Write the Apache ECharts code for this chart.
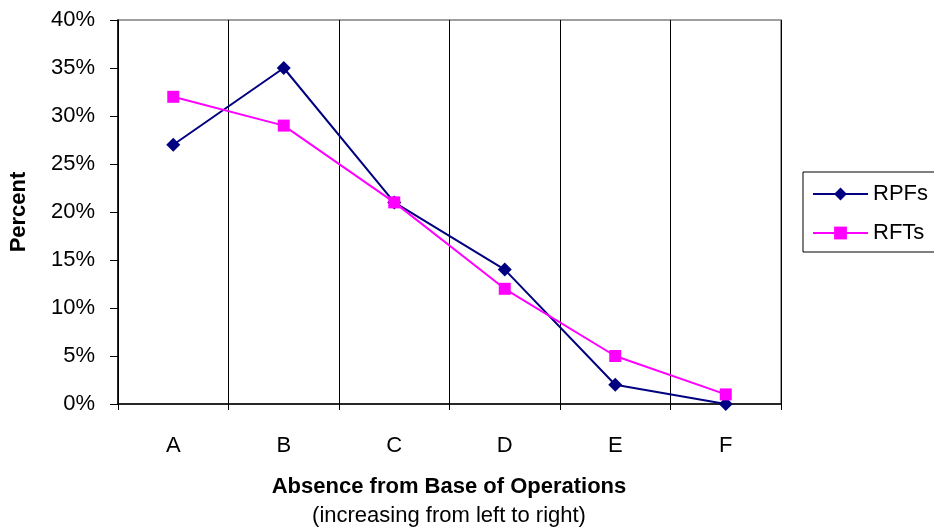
<!DOCTYPE html>
<html><head><meta charset="utf-8">
<script src="https://cdn.jsdelivr.net/npm/echarts@6/dist/echarts.min.js"></script>
<style>html,body{margin:0;padding:0;background:#fff}#c{width:934px;height:531px}</style>
</head><body><div id="c"></div>
<script>
var categories = ['A','B','C','D','E','F'];
var rpfs = [27, 35, 21, 14, 2, 0];
var rfts = [32, 29, 21, 12, 5, 1];
var yTicks = [0, 5, 10, 15, 20, 25, 30, 35, 40];

var chart = echarts.init(document.getElementById('c'));
var font = 'Liberation Sans, Arial, sans-serif';
var fs = 22;
chart.setOption({
  animation: false,
  textStyle: {fontFamily: font},
  grid: {left: 118, right: 153, top: 20, bottom: 127, show: true, borderColor: '#808080', borderWidth: 1.5},
  xAxis: {
    type: 'category', data: categories, boundaryGap: true,
    axisLine: {lineStyle: {color: '#000', width: 1.5}},
    axisTick: {show: true, length: 6, lineStyle: {color: '#000'}},
    axisLabel: {color: '#000', fontSize: fs, margin: 31, fontFamily: font},
    splitLine: {show: true, lineStyle: {color: '#000', width: 1}}
  },
  yAxis: {
    type: 'value', min: 0, max: 40, interval: 5,
    name: 'Percent', nameLocation: 'middle', nameGap: 88, nameRotate: 90,
    nameTextStyle: {fontWeight: 'bold', fontSize: fs, color: '#000', fontFamily: font},
    axisLine: {show: true, lineStyle: {color: '#000', width: 1.5}},
    axisTick: {show: true, length: 8, lineStyle: {color: '#000'}},
    axisLabel: {color: '#000', fontSize: fs, margin: 23, fontFamily: font, formatter: function(v){return v + '%';}},
    splitLine: {show: false}
  },
  legend: {
    left: 803, top: 172, orient: 'vertical',
    borderColor: '#000', borderWidth: 1, padding: [11, 12, 8, 9],
    itemWidth: 55, itemHeight: 16, itemGap: 17,
    textStyle: {fontSize: fs, color: '#000', fontFamily: font},
    data: ['RPFs', 'RFTs']
  },
  graphic: [
    {type: 'text', x: 449, y: 476, style: {text: 'Absence from Base of Operations', fontSize: fs, fontWeight: 'bold', fontFamily: font, fill: '#000', align: 'center'}},
    {type: 'text', x: 449, y: 505, style: {text: '(increasing from left to right)', fontSize: fs, fontFamily: font, fill: '#000', align: 'center'}}
  ],
  series: [
    {name: 'RPFs', type: 'line', data: rpfs, symbol: 'diamond', symbolSize: 14,
     lineStyle: {color: '#000080', width: 2}, itemStyle: {color: '#000080'}},
    {name: 'RFTs', type: 'line', data: rfts, symbol: 'rect', symbolSize: 12,
     lineStyle: {color: '#ff00ff', width: 2}, itemStyle: {color: '#ff00ff'}}
  ]
});
</script></body></html>
